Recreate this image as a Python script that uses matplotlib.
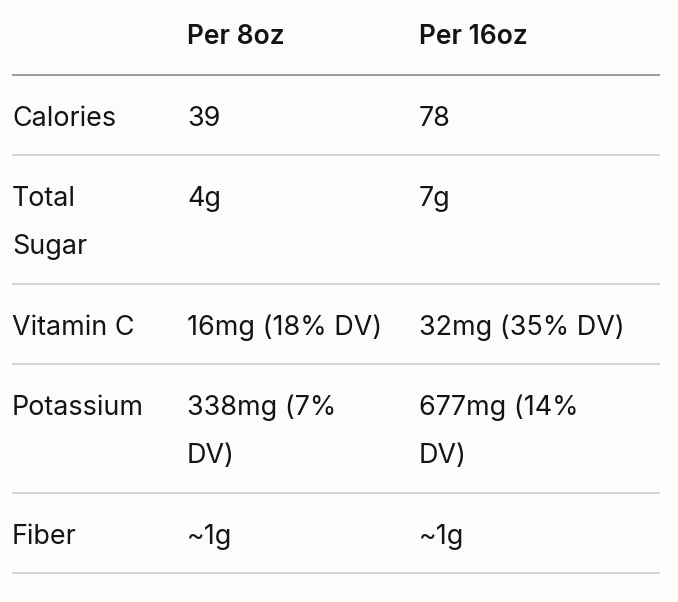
import matplotlib
matplotlib.use("Agg")
import matplotlib.pyplot as plt

# table content
header = ["", "Per 8oz", "Per 16oz"]
nutrients = ["Calories", "Total\nSugar", "Vitamin C", "Potassium", "Fiber"]
per_8oz = ["39", "4g", "16mg (18% DV)", "338mg (7%\nDV)", "~1g"]
per_16oz = ["78", "7g", "32mg (35% DV)", "677mg (14%\nDV)", "~1g"]

col_x = [12, 187, 419]
line_h = 48
pad = 32.4
bg = "#fcfcfa"
ink = "#141414"
font = "Inter"
fsize = 19.4

fig = plt.figure(figsize=(6.78, 6.02), dpi=100, facecolor=bg)
ax = fig.add_axes([0, 0, 1, 1])
ax.set_xlim(0, 678)
ax.set_ylim(602, 0)
ax.axis("off")

for x, h in zip(col_x, header):
    ax.text(x, 37, h, fontsize=fsize * 0.98, fontweight="semibold", family=font,
            color=ink, va="center", ha="left")
ax.hlines(75, 12, 660, color="#8a8a8a", lw=1.2)

top = 75
for row in zip(nutrients, per_8oz, per_16oz):
    n = max(cell.count("\n") + 1 for cell in row)
    for x, cell in zip(col_x, row):
        for i, part in enumerate(cell.split("\n")):
            ax.text(x, top + 44 + i * line_h, part, fontsize=fsize, family=font,
                    color=ink, va="center", ha="left")
    top += pad + line_h * n
    ax.hlines(top, 12, 660, color="#cccccc", lw=1.2)

fig.savefig("out.png", dpi=100, facecolor=bg)
